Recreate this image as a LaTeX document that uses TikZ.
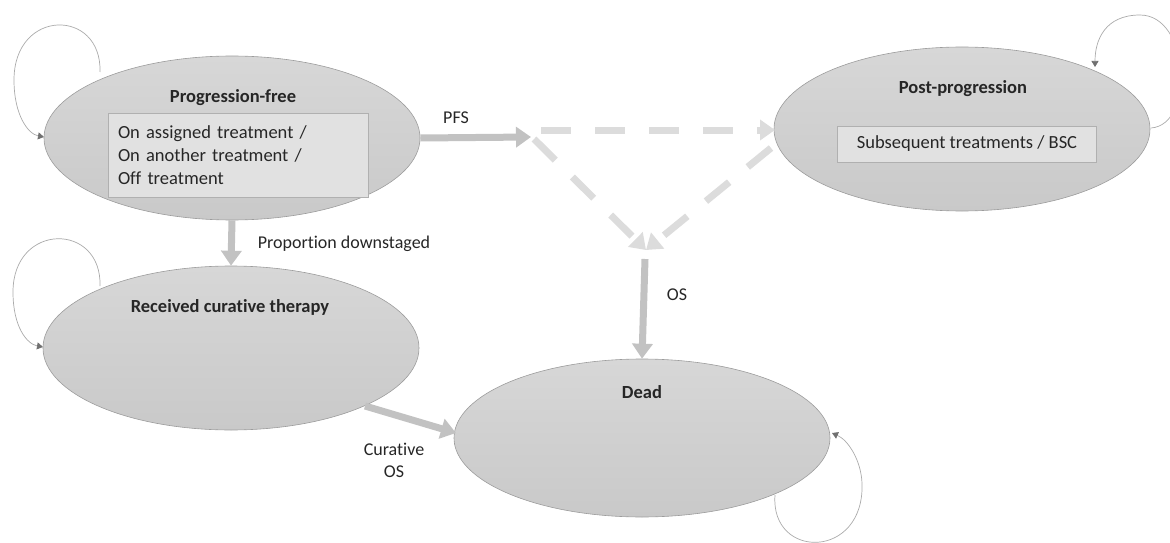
\documentclass[tikz,border=0pt]{standalone}
\usepackage{fontspec}
\setmainfont[Ligatures=NoCommon]{Carlito}
\usetikzlibrary{shapes.geometric,arrows.meta}
\definecolor{ellfillA}{HTML}{D7D7D7}
\definecolor{ellfillB}{HTML}{C9C9C9}
\definecolor{ellborder}{HTML}{9C9C9C}
\definecolor{boxfill}{HTML}{E1E1E1}
\definecolor{boxborder}{HTML}{B0B0B0}
\definecolor{solidarrow}{HTML}{C2C2C2}
\definecolor{dasharrow}{HTML}{DCDCDC}
\definecolor{loopcol}{HTML}{ABABAB}
\definecolor{loophead}{HTML}{707070}
\tikzset{
  state/.style={ellipse, draw=ellborder, line width=0.6pt, top color=ellfillA, bottom color=ellfillB, minimum width=376pt, minimum height=164pt, inner sep=0pt},
  title/.style={font=\fontsize{18.5}{22}\selectfont\bfseries, text=black!85},
  lbl/.style={font=\fontsize{18}{22}\selectfont, text=black!85},
  innerbox/.style={draw=boxborder, fill=boxfill, line width=0.6pt, inner sep=0pt, font=\fontsize{18.5}{23}\selectfont, text=black!85},
  flow/.style={draw=solidarrow, line width=7pt, -{Triangle[width=20pt,length=15pt]}},
  dflow/.style={draw=dasharrow, line width=7pt, dash pattern=on 30pt off 24pt, -{Triangle[width=20pt,length=15pt]}},
  selfloop/.style={draw=loopcol, line width=0.7pt, -{Triangle[width=7pt,length=6pt,color=loophead]}}
}
\begin{document}
\begin{tikzpicture}[x=1pt,y=-1pt]
\useasboundingbox (0,0) rectangle (1170,543);
% states
\node[state] (pf) at (232,138) {};
\node[state] (pp) at (962,129) {};
\node[state] (rc) at (231,348) {};
\node[state, minimum height=158pt] (dead) at (642,438) {};
% titles
\node[title] (pft) at (233,98) {Progression-free};
\node[title] (ppt) at (963,89) {Post-progression};
\node[title] (rct) at (230,307) {Received curative therapy};
\node[title] (deadt) at (642,392) {Dead};
% inner boxes
\node[innerbox, minimum width=260pt, minimum height=84pt, text width=240pt, align=left] (pfbox) at (238,155)
  {On assigned treatment /\\On another treatment /\\Off treatment};
\node[innerbox, minimum width=259pt, minimum height=36pt] (ppbox) at (967,144) {Subsequent treatments / BSC};
% junction points
\coordinate (j) at (531,137);
\coordinate (jh) at (541,130);
\coordinate (jd) at (534,139);
\coordinate (osd) at (646,250);
\coordinate (ppl) at (775,130);
\coordinate (ppd) at (771,148);
\coordinate (ost) at (645,259);
% arrows
\draw[flow] (pf.east |- 0,138) -- (j);
\node[lbl] (pfs) at (456,118) {PFS};
\draw[dflow] (jh) -- (ppl);
\draw[dflow] (jd) -- (osd);
\draw[dflow] (ppd) -- (osd);
\draw[flow] (ost) -- (dead.north);
\node[lbl] (os) at (677,295) {OS};
\draw[flow] (pf.south) -- (rc.north);
\node[lbl] (pd) at (344,244) {Proportion downstaged};
\coordinate (rcs) at (365,406);
\coordinate (dw) at (456,433);
\draw[flow] (rcs) -- (dw);
\node[lbl, align=center] (cos) at (394,460) {Curative\\OS};
% self loops
\draw[selfloop] (100,72) .. controls (102,8) and (14,8) .. (14,80) .. controls (14,115) and (28,134) .. (44,137);
\draw[selfloop] (100,286) .. controls (102,222) and (13,222) .. (13,292) .. controls (13,327) and (27,344) .. (43,347);
\draw[selfloop] (1151,128) .. controls (1195,125) and (1190,15) .. (1140,15) .. controls (1105,15) and (1095,40) .. (1095,67);
\draw[selfloop] (775,495) .. controls (770,560) and (865,560) .. (862,483) .. controls (861,460) and (848,440) .. (832,433);
\end{tikzpicture}
\end{document}
